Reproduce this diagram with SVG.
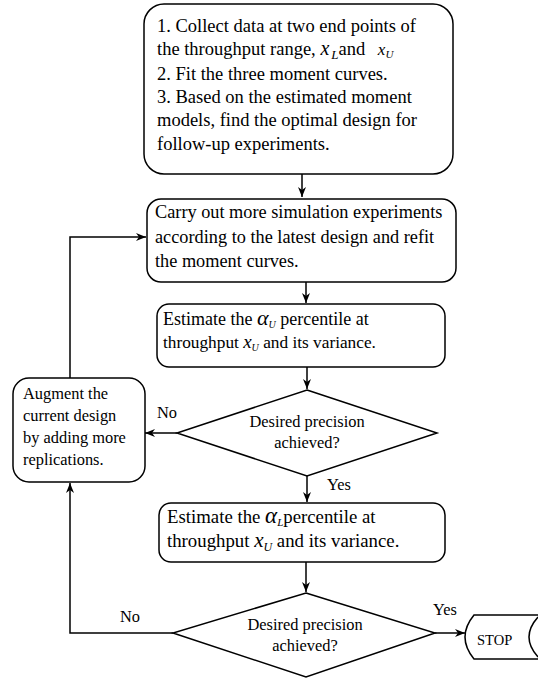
<svg xmlns="http://www.w3.org/2000/svg" width="538" height="679" viewBox="0 0 538 679">
<defs>
<marker id="ah" viewBox="0 0 10 10" refX="10" refY="5" markerWidth="10" markerHeight="10" markerUnits="userSpaceOnUse" orient="auto">
<path d="M0,1 L10,5 L0,9 L3,5 Z" fill="#000"/>
</marker>
<style>
.box{fill:#fff;stroke:#000;stroke-width:1.5}
.ln{fill:none;stroke:#000;stroke-width:1.5}
.t{font-family:"Liberation Serif","Times New Roman",serif;fill:#000}
.b1{font-size:18.5px}
.b2{font-size:18.3px}
.b3{font-size:18px}
.b3s{font-size:17.3px}
.b4{font-size:18.8px}
.s{font-size:16.4px}
.m{font-style:italic}
</style>
</defs>
<rect width="538" height="679" fill="#fff"/>
<g id="connectors">
<path class="ln" d="M302,174 V197" marker-end="url(#ah)"/>
<path class="ln" d="M306,282 V303" marker-end="url(#ah)"/>
<path class="ln" d="M307,367 V389" marker-end="url(#ah)"/>
<path class="ln" d="M177,433 H145" marker-end="url(#ah)"/>
<path class="ln" d="M70,378 V237 H146" marker-end="url(#ah)"/>
<path class="ln" d="M307,476 V502" marker-end="url(#ah)"/>
<path class="ln" d="M306,562 V592" marker-end="url(#ah)"/>
<path class="ln" d="M173,633 H70 V483" marker-end="url(#ah)"/>
<path class="ln" d="M435,633 H465" marker-end="url(#ah)"/>
<text class="t s" x="157" y="418">No</text>
<text class="t s" x="327" y="490">Yes</text>
<text class="t s" x="120" y="622">No</text>
<text class="t s" x="433" y="615">Yes</text>
</g>
<g id="start">
<rect class="box" x="144" y="4" width="309" height="170" rx="20"/>
<text class="t b1" x="157" y="32">1. Collect data at two end points of</text>
<text class="t b1" x="157" y="55">the throughput range, <tspan class="m" font-size="20">x</tspan><tspan class="m" font-size="13" dx="2" dy="4">L</tspan><tspan dy="-4">and </tspan><tspan class="m" dx="8" font-size="17">x</tspan><tspan class="m" font-size="11" dy="3">U</tspan></text>
<text class="t b1" x="157" y="80">2. Fit the three moment curves.</text>
<text class="t b1" x="157" y="103">3. Based on the estimated moment</text>
<text class="t b1" x="157" y="126">models, find the optimal design for</text>
<text class="t b1" x="157" y="150">follow-up experiments.</text>
</g>
<g id="simulate">
<rect class="box" x="147" y="199" width="309" height="83" rx="14"/>
<text class="t b2" x="155" y="218">Carry out more simulation experiments</text>
<text class="t b2" x="155" y="243">according to the latest design and refit</text>
<text class="t b2" x="155" y="267">the moment curves.</text>
</g>
<g id="estimateU">
<rect class="box" x="157" y="304" width="288" height="63" rx="12"/>
<text class="t b3" x="163" y="325">Estimate the <tspan class="m" font-size="22">α</tspan><tspan class="m" font-size="10" dy="3">U</tspan><tspan dy="-3"> percentile at</tspan></text>
<text class="t b3s" x="163" y="348">throughput <tspan class="m" font-size="19">x</tspan><tspan class="m" font-size="10" dy="3">U</tspan><tspan dy="-3"> and its variance.</tspan></text>
</g>
<g id="decision1">
<polygon class="box" points="307,390 437,433 307,476 177,433"/>
<text class="t s" x="307" y="427" text-anchor="middle">Desired precision</text>
<text class="t s" x="307" y="448" text-anchor="middle">achieved?</text>
</g>
<g id="augment">
<rect class="box" x="13" y="378" width="132" height="104" rx="16"/>
<text class="t s" x="23" y="399">Augment the</text>
<text class="t s" x="23" y="421">current design</text>
<text class="t s" x="23" y="443">by adding more</text>
<text class="t s" x="23" y="465">replications.</text>
</g>
<g id="estimateL">
<rect class="box" x="159" y="503" width="286" height="59" rx="12"/>
<text class="t b4" x="167" y="523">Estimate the <tspan class="m" font-size="23">α</tspan><tspan class="m" font-size="11" dy="3">L</tspan><tspan dy="-3">percentile at</tspan></text>
<text class="t b4" x="167" y="547">throughput <tspan class="m" font-size="21">x</tspan><tspan class="m" font-size="12" dy="4">U</tspan><tspan dy="-4">  and its variance.</tspan></text>
</g>
<g id="decision2">
<polygon class="box" points="306,593 435,633 306,677 173,633"/>
<text class="t s" x="305" y="630" text-anchor="middle">Desired precision</text>
<text class="t s" x="305" y="651" text-anchor="middle">achieved?</text>
</g>
<g id="stop">
<path class="box" d="M474,615 H540 V659 H474 Q456,637 474,615 Z"/>
<path class="ln" d="M538,617 Q520,637 538,657"/>
<text class="t" font-size="14.5" x="477" y="645">STOP</text>
</g>
</svg>
